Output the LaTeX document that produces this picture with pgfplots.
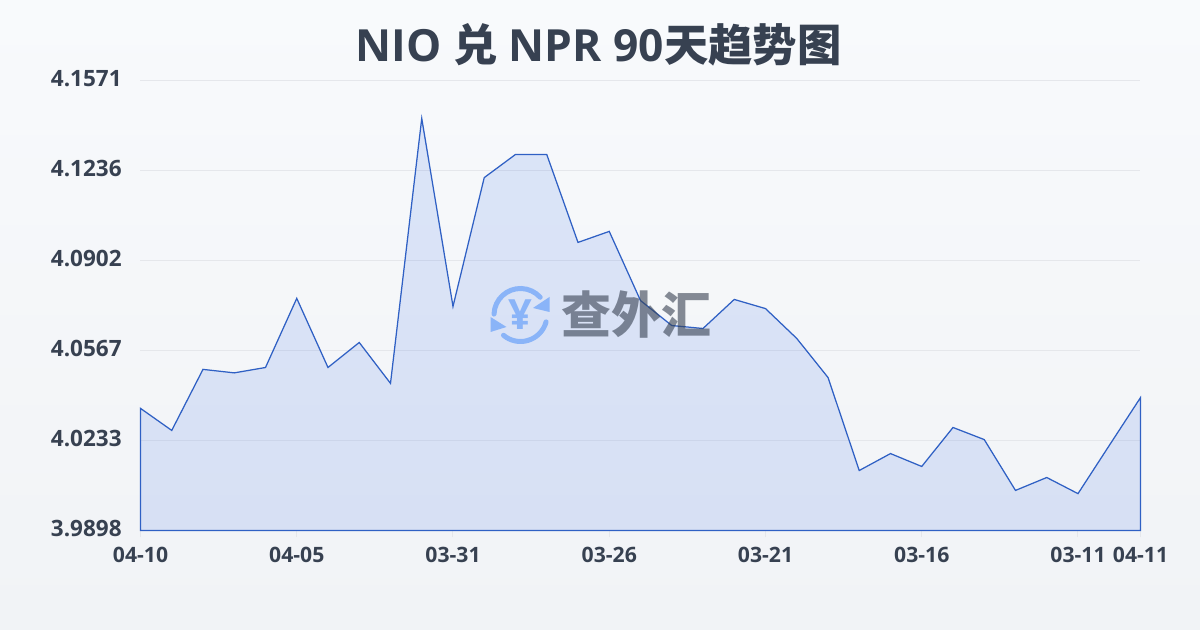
\documentclass[border=0pt]{standalone}
\usepackage{fontspec}
\setmainfont{Open Sans}
\newfontfamily\cjk{Noto Sans CJK SC}
\usepackage{pgfplots}
\pgfplotsset{compat=1.18}
\definecolor{inkc}{HTML}{374151}
\definecolor{gridc}{HTML}{E5E7EB}
\definecolor{linec}{HTML}{2F60C4}
\definecolor{fillc}{HTML}{3B6FE8}
\definecolor{logoc}{HTML}{8AB4F8}
\pgfplotstableread{
idx val
0 4.0352
1 4.0270
2 4.0497
3 4.0484
4 4.0504
5 4.0761
6 4.0504
7 4.0597
8 4.0445
9 4.1430
10 4.0731
11 4.1210
12 4.1296
13 4.1296
14 4.0969
15 4.1010
16 4.0753
17 4.0660
18 4.0649
19 4.0757
20 4.0723
21 4.0612
22 4.0467
23 4.0121
24 4.0184
25 4.0136
26 4.0281
27 4.0236
28 4.0047
29 4.0095
30 4.0035
31 4.0214
32 4.0392
}\rates
\begin{document}
\begin{tikzpicture}[x=0.6pt,y=0.6pt]
\shade[top color={rgb,255:red,248;green,250;blue,252}, bottom color={rgb,255:red,241;green,243;blue,246}] (0,0) rectangle (1200,630);
\node[text=inkc, font=\fontsize{26.6pt}{30pt}\selectfont\bfseries, anchor=center] at (598.5,585) {NIO {\cjk 兑} NPR 90{\cjk 天趋势图}};
\begin{axis}[
  at={(84.3pt,59.7pt)}, anchor=south west,
  scale only axis, width=600pt, height=270pt,
  xmin=0, xmax=32, ymin=3.9898, ymax=4.1571,
  xtick={0,5,10,15,20,25,30,32},
  xticklabels={04-10,04-05,03-31,03-26,03-21,03-16,03-11,04-11},
  ytick={3.9898,4.0233,4.0567,4.0902,4.1236,4.1571},
  yticklabels={3.9898,4.0233,4.0567,4.0902,4.1236,4.1571},
  axis line style={draw=none},
  ymajorgrids, grid style={gridc, line width=0.6pt},
  xtick pos=bottom, tick align=outside,
  major tick length=4pt,
  xtick style={gridc, line width=0.6pt},
  ytick style={draw=none},
  xticklabel style={text=inkc, font=\fontsize{12.7pt}{14pt}\selectfont\bfseries, yshift=-2.5pt},
  yticklabel style={text=inkc, font=\fontsize{13.5pt}{15pt}\selectfont\bfseries, xshift=-3.8pt, yshift=1.2pt},
  /pgf/number format/assume math mode=true,
  clip=false,
]
\addplot[draw=linec, line width=0.75pt, fill=fillc, fill opacity=0.145] table[x=idx,y=val] {\rates} \closedcycle;
\end{axis}
% watermark
\begin{scope}[shift={(520.5,315)}]
\draw[logoc, line width=3pt, line cap=round] (178:26.5) arc (178:42:26.5);
\draw[logoc, line width=3pt, line cap=round] (-15:26.5) arc (-15:-130:26.5);
\fill[logoc] (29,18) -- (29,3) -- (12.5,7) -- cycle;
\fill[logoc] (-30,-2) -- (-30,-17) -- (-14,-12) -- cycle;
\node[text=logoc, font=\fontsize{25pt}{26pt}\selectfont\bfseries] at (0,0) {¥};
\end{scope}
\node[text=inkc, text opacity=0.6, font=\fontsize{30pt}{32pt}\selectfont\cjk\bfseries] at (636,315) {查外汇};
\end{tikzpicture}
\end{document}
